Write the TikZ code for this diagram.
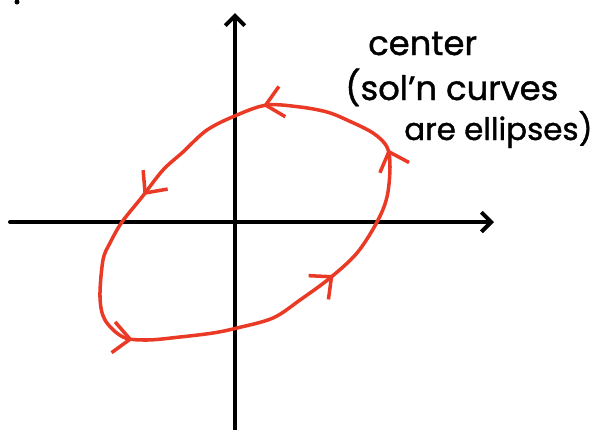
\documentclass[tikz,border=0pt]{standalone}
\usepackage{fontspec}
\usepackage{xcolor}
\usepackage{tikz}
\usetikzlibrary{arrows.meta,positioning,decorations.markings}
\setmainfont{Poppins}
\newfontfamily\handfont[FakeBold=1.2,Ligatures=TeX]{Poppins}
\definecolor{solred}{RGB}{234,58,38}

\begin{document}
\begin{tikzpicture}[x=0.025cm,y=-0.025cm,>={Straight Barb[length=7pt,width=14pt]}]
  \tikzstyle{axis}=[line width=2.8pt,line cap=round,->]
  \tikzstyle{orbit}=[solred,line width=2.5pt,line cap=round,line join=round]
  \tikzstyle{lbl}=[anchor=base west,inner sep=0pt,font=\handfont\fontsize{24}{28}\selectfont]
  \useasboundingbox (0,0) rectangle (600,429);
  \coordinate (xl) at (10,222);
  \coordinate (xr) at (494,222);
  \coordinate (yb) at (235,431);
  \coordinate (yt) at (235,13);
  \draw[axis] (xl) -- (xr);
  \draw[axis] (yb) -- (yt);
  \fill (17,2) circle (2.5);
  % solution curve
  \draw[orbit,postaction={decorate},decoration={markings,
      mark=at position 0.045 with {\arrow{Straight Barb[length=12pt,width=22pt]}},
      mark=at position 0.23 with {\arrow{Straight Barb[length=12pt,width=22pt]}},
      mark=at position 0.44 with {\arrow{Straight Barb[length=12pt,width=22pt]}},
      mark=at position 0.703 with {\arrow{Straight Barb[length=12pt,width=22pt]}},
      mark=at position 0.878 with {\arrow{Straight Barb[length=12pt,width=22pt]}}}]
    plot[smooth cycle,tension=0.55] coordinates {
      (327,112) (300,107) (267,105) (237,115) (207,130) (183,152) (163,170)
      (142,197) (122,222) (110,243) (103,260) (100,297) (105,320) (123,337)
      (147,340) (180,337) (213,333) (237,328) (273,318) (300,300) (330,278)
      (357,253) (377,222) (387,197) (390,167) (387,147) (373,133) (347,120)};
  \node[lbl] (kind) at (368,55) {center};
  \node[lbl] (why) at (345,100) {(sol'n curves};
  \node[lbl,font=\handfont\fontsize{22}{26}\selectfont] (shape) at (404,140) {are ellipses)};
\end{tikzpicture}
\end{document}
